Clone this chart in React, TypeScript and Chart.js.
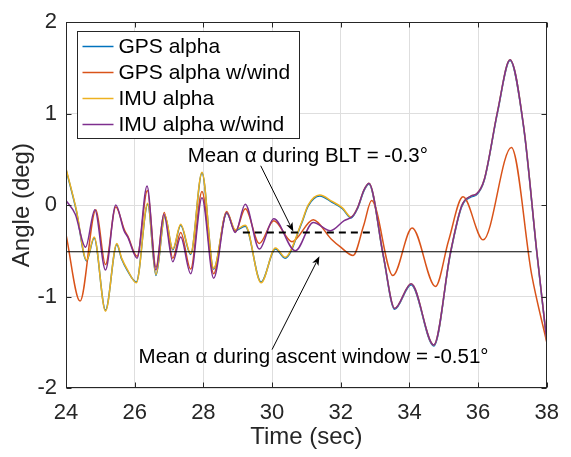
import React, { useEffect, useRef } from "react";
import { Chart, registerables } from "chart.js";

Chart.register(...registerables);

const FONT = "'Liberation Sans', Arial, Helvetica, sans-serif";

// ---------- axis ticks ----------
const xTickValues = [24, 26, 28, 30, 32, 34, 36, 38];
const yTickValues = [-2, -1, 0, 1, 2];
const xAxisTitle = "Time (sec)";
const yAxisTitle = "Angle (deg)";

// ---------- series ----------
const seriesLabels = ["GPS alpha", "GPS alpha w/wind", "IMU alpha", "IMU alpha w/wind"];
const seriesColors = ["#0072BD", "#D95319", "#EDB120", "#7E2F8E"];

const gpsAlphaT = [24.0, 24.3, 24.6, 24.82, 25.15, 25.48, 25.62, 25.78, 26.05, 26.38, 26.62, 26.88, 27.11, 27.34, 27.63, 27.96, 28.3, 28.68, 28.93, 29.22, 29.68, 30.1, 30.38, 30.86, 31.05, 31.39, 31.75, 32.05, 32.3, 32.5, 32.67, 32.82, 33.24, 33.57, 34.05, 34.71, 35.19, 35.52, 35.8, 35.95, 36.18, 36.57, 36.93, 37.33, 37.71, 38.0];
const gpsAlphaV = [0.39, -0.06, -0.61, -0.36, -1.15, -0.43, -0.59, -0.71, -0.84, 0.01, -0.77, -0.12, -0.49, -0.22, -0.54, 0.35, -0.70, -0.09, -0.28, -0.23, -0.84, -0.48, -0.58, -0.20, -0.01, 0.10, 0.03, -0.04, -0.14, -0.03, 0.15, 0.23, -0.56, -1.14, -0.87, -1.54, -0.54, -0.02, 0.09, 0.11, 0.27, 1.02, 1.58, 0.84, -0.52, -1.49];

const gpsWindT = [24.0, 24.41, 24.87, 25.15, 25.45, 25.7, 25.8, 26.07, 26.37, 26.62, 26.86, 27.11, 27.34, 27.63, 27.96, 28.3, 28.68, 28.93, 29.22, 29.63, 30.05, 30.58, 31.2, 31.72, 32.0, 32.36, 32.67, 32.9, 33.52, 34.08, 34.76, 35.14, 35.56, 36.15, 36.97, 37.56, 38.0];
const gpsWindV = [-0.32, -1.05, -0.05, -0.65, -0.02, -0.27, -0.34, -0.56, 0.16, -0.68, -0.08, -0.58, -0.30, -0.70, 0.15, -0.75, -0.07, -0.29, -0.04, -0.42, -0.17, -0.40, -0.16, -0.37, -0.46, -0.55, -0.22, 0.05, -0.77, -0.25, -0.89, -0.39, 0.09, -0.38, 0.63, -0.76, -1.50];

const imuAlphaT = [24.0, 24.3, 24.6, 24.82, 25.15, 25.48, 25.62, 25.78, 26.05, 26.38, 26.62, 26.88, 27.11, 27.34, 27.63, 27.96, 28.3, 28.68, 28.93, 29.22, 29.68, 30.1, 30.38, 30.86, 31.05, 31.39, 31.75, 32.05, 32.3, 32.5, 32.67, 32.82, 33.24, 33.57, 34.05, 34.71, 35.19, 35.52, 35.8, 35.95, 36.18, 36.57, 36.93, 37.33, 37.71, 38.0];
const imuAlphaV = [0.40, -0.05, -0.60, -0.35, -1.16, -0.42, -0.58, -0.70, -0.85, 0.02, -0.76, -0.11, -0.48, -0.21, -0.53, 0.36, -0.69, -0.08, -0.27, -0.22, -0.85, -0.47, -0.57, -0.19, 0.0, 0.11, 0.04, -0.03, -0.13, -0.02, 0.16, 0.24, -0.55, -1.13, -0.86, -1.53, -0.53, -0.01, 0.10, 0.12, 0.28, 1.03, 1.59, 0.85, -0.51, -1.48];

const imuWindT = [24.0, 24.27, 24.57, 24.84, 25.15, 25.45, 25.69, 25.8, 26.07, 26.36, 26.62, 26.85, 27.11, 27.34, 27.63, 27.96, 28.3, 28.68, 28.93, 29.22, 29.63, 30.05, 30.68, 31.2, 31.7, 32.1, 32.35, 32.5, 32.67, 32.82, 33.24, 33.57, 34.05, 34.71, 35.19, 35.52, 35.8, 35.95, 36.18, 36.57, 36.93, 37.33, 37.71, 38.0];
const imuWindV = [0.05, -0.10, -0.46, -0.05, -0.71, 0.0, -0.28, -0.35, -0.58, 0.21, -0.71, -0.10, -0.62, -0.35, -0.75, 0.08, -0.80, -0.08, -0.30, 0.01, -0.48, -0.15, -0.50, -0.19, -0.28, -0.17, -0.12, -0.02, 0.16, 0.24, -0.55, -1.13, -0.86, -1.53, -0.53, -0.01, 0.10, 0.12, 0.28, 1.03, 1.59, 0.85, -0.51, -1.48];

// ---------- mean lines ----------
const meanAscentT = [24, 37.56];
const meanAscentV = [-0.51, -0.51];
const meanBltT = [29.15, 32.86];
const meanBltV = [-0.3, -0.3];

// ---------- annotations ----------
const annotationTexts = ["Mean \u03b1 during BLT = -0.3\u00b0", "Mean \u03b1 during ascent window = -0.51\u00b0"];
const annotationX = [31.04, 31.21];
const annotationY = [0.535, -1.665];
const arrowFromX = [29.67, 30.0];
const arrowFromY = [0.43, -1.58];
const arrowToX = [30.62, 31.38];
const arrowToY = [-0.29, -0.56];

const toPoints = (t: number[], v: number[]) => t.map((x, i) => ({ x, y: v[i] }));

const overlayPlugin = {
  id: "overlay",
  afterDraw(chart: any) {
    const { ctx, chartArea, scales } = chart;
    const xs = scales.x;
    const ys = scales.y;
    const L = Math.round(chartArea.left) + 0.5;
    const R = Math.round(chartArea.right) - 0.5;
    const T = Math.round(chartArea.top) + 0.5;
    const B = Math.round(chartArea.bottom) - 0.5;
    ctx.save();
    // box & inward ticks
    ctx.strokeStyle = "#262626";
    ctx.lineWidth = 1;
    ctx.strokeRect(L, T, R - L, B - T);
    ctx.beginPath();
    xTickValues.forEach((v) => {
      const px = Math.round(xs.getPixelForValue(v)) + 0.5;
      ctx.moveTo(px, B);
      ctx.lineTo(px, B - 5);
      ctx.moveTo(px, T);
      ctx.lineTo(px, T + 5);
    });
    yTickValues.forEach((v) => {
      const py = Math.round(ys.getPixelForValue(v)) + 0.5;
      ctx.moveTo(L, py);
      ctx.lineTo(L + 5, py);
      ctx.moveTo(R, py);
      ctx.lineTo(R - 5, py);
    });
    ctx.stroke();

    // annotation texts
    ctx.fillStyle = "#000";
    ctx.font = `20.5px ${FONT}`;
    ctx.textAlign = "center";
    ctx.textBaseline = "middle";
    annotationTexts.forEach((t, i) => {
      ctx.fillText(t, xs.getPixelForValue(annotationX[i]), ys.getPixelForValue(annotationY[i]));
    });

    // arrows
    ctx.strokeStyle = "#000";
    ctx.lineWidth = 1;
    arrowFromX.forEach((_, i) => {
      const x0 = xs.getPixelForValue(arrowFromX[i]);
      const y0 = ys.getPixelForValue(arrowFromY[i]);
      const x1 = xs.getPixelForValue(arrowToX[i]);
      const y1 = ys.getPixelForValue(arrowToY[i]);
      const ang = Math.atan2(y1 - y0, x1 - x0);
      const hl = 9;
      const hw = 3.5;
      ctx.beginPath();
      ctx.moveTo(x0, y0);
      ctx.lineTo(x1 - Math.cos(ang) * hl * 0.8, y1 - Math.sin(ang) * hl * 0.8);
      ctx.stroke();
      const bx = x1 - Math.cos(ang) * hl;
      const by = y1 - Math.sin(ang) * hl;
      ctx.beginPath();
      ctx.moveTo(x1, y1);
      ctx.lineTo(bx + Math.sin(ang) * hw, by - Math.cos(ang) * hw);
      ctx.lineTo(x1 - Math.cos(ang) * hl * 0.75, y1 - Math.sin(ang) * hl * 0.75);
      ctx.lineTo(bx - Math.sin(ang) * hw, by + Math.cos(ang) * hw);
      ctx.closePath();
      ctx.fillStyle = "#000";
      ctx.fill();
    });

    // legend
    const lx = Math.round(chartArea.left) + 11.5;
    const ly = Math.round(chartArea.top) + 9.5;
    const lw = 222;
    const lh = 107;
    ctx.fillStyle = "#fff";
    ctx.fillRect(lx, ly, lw, lh);
    ctx.strokeStyle = "#262626";
    ctx.lineWidth = 1;
    ctx.strokeRect(lx, ly, lw, lh);
    ctx.font = `21px ${FONT}`;
    ctx.textAlign = "left";
    ctx.textBaseline = "middle";
    chart.data.datasets.slice(0, 4).forEach((ds: any, i: number) => {
      const cy = ly + 15 + i * 26;
      ctx.strokeStyle = ds.borderColor;
      ctx.lineWidth = 1.5;
      ctx.beginPath();
      ctx.moveTo(lx + 5, cy);
      ctx.lineTo(lx + 36, cy);
      ctx.stroke();
      ctx.fillStyle = "#000";
      ctx.fillText(ds.label, lx + 41, cy + 1);
    });
    ctx.restore();
  },
};

export default function App() {
  const ref = useRef<HTMLCanvasElement | null>(null);
  useEffect(() => {
    if (!ref.current) return;
    const seriesT = [gpsAlphaT, gpsWindT, imuAlphaT, imuWindT];
    const seriesV = [gpsAlphaV, gpsWindV, imuAlphaV, imuWindV];
    const datasets: any[] = seriesLabels.map((label, i) => ({
      label,
      data: toPoints(seriesT[i], seriesV[i]),
      borderColor: seriesColors[i],
      backgroundColor: seriesColors[i],
      borderWidth: 1.5,
      pointRadius: 0,
      cubicInterpolationMode: "monotone",
      fill: false,
      order: 4 - i + 1,
    }));
    datasets.push({
      label: "mean ascent",
      data: toPoints(meanAscentT, meanAscentV),
      borderColor: "#000",
      borderWidth: 1.2,
      pointRadius: 0,
      tension: 0,
      fill: false,
      order: 0,
    });
    datasets.push({
      label: "mean BLT",
      data: toPoints(meanBltT, meanBltV),
      borderColor: "#000",
      borderWidth: 2,
      borderDash: [7, 5],
      pointRadius: 0,
      tension: 0,
      fill: false,
      order: 0,
    });
    const chart = new Chart(ref.current, {
      type: "line",
      data: { datasets },
      options: {
        responsive: false,
        animation: false,
        devicePixelRatio: 1,
        layout: { padding: { top: 17, right: 14, left: 0, bottom: 0 } },
        plugins: { legend: { display: false }, tooltip: { enabled: false } },
        scales: {
          x: {
            type: "linear",
            min: 24,
            max: 38,
            afterBuildTicks: (s: any) => {
              s.ticks = xTickValues.map((value) => ({ value }));
            },
            afterFit: (s: any) => {
              s.height = 69;
            },
            ticks: {
              autoSkip: false,
              maxRotation: 0,
              padding: 12,
              color: "#262626",
              font: { family: FONT, size: 22 },
              callback: (v: any) => String(v),
            },
            grid: { color: "#dedede", drawTicks: false, lineWidth: 1 },
            border: { display: false },
            title: {
              display: true,
              text: xAxisTitle,
              color: "#262626",
              font: { family: FONT, size: 24 },
              padding: { top: 0, bottom: 5 },
            },
          },
          y: {
            type: "linear",
            min: -2,
            max: 2,
            afterBuildTicks: (s: any) => {
              s.ticks = yTickValues.map((value) => ({ value }));
            },
            afterFit: (s: any) => {
              s.width = 66;
            },
            ticks: {
              autoSkip: false,
              padding: 9,
              color: "#262626",
              font: { family: FONT, size: 22 },
              callback: (v: any) => String(v),
            },
            grid: { color: "#dedede", drawTicks: false, lineWidth: 1 },
            border: { display: false },
            title: {
              display: true,
              text: yAxisTitle,
              color: "#262626",
              font: { family: FONT, size: 24 },
              padding: { top: 8, bottom: 0 },
            },
          },
        },
      } as any,
      plugins: [overlayPlugin],
    });
    return () => chart.destroy();
  }, []);
  return (
    <div style={{ position: "absolute", left: 0, top: 0, width: 571, height: 457, background: "#fff" }}>
      <canvas ref={ref} width={571} height={457} />
    </div>
  );
}
